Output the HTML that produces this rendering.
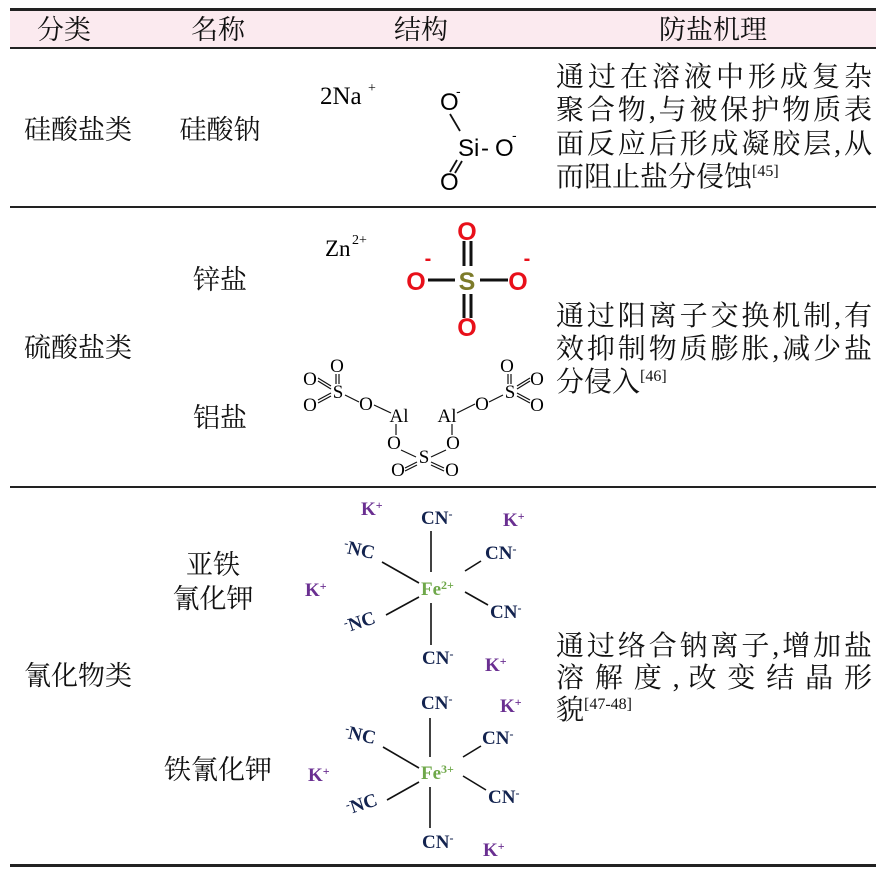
<!DOCTYPE html>
<html><head><meta charset="utf-8"><style>
body{margin:0;background:#fff;width:888px;height:879px;position:relative;overflow:hidden;font-family:"Liberation Serif","Noto Serif CJK SC",serif;color:#111}
.t{position:absolute;font-size:27px;line-height:30px;white-space:nowrap;transform:translate(-50%,-50%)}
.r{position:absolute;left:556px;width:316px;font-size:28px;line-height:33px;text-align:justify;text-align-last:justify;white-space:nowrap}
.r.l{text-align-last:left}
sup{font-size:16px;vertical-align:top;position:relative;top:-6px;font-family:"Liberation Serif",serif}
.hl{position:absolute;left:10px;width:866px;background:#222}
</style></head><body>
<div style="position:absolute;left:10px;top:10px;width:866px;height:38px;background:#fbeaef"></div>
<div class="hl" style="top:8px;height:3px"></div>
<div class="hl" style="top:47px;height:2px"></div>
<div class="hl" style="top:206px;height:2px"></div>
<div class="hl" style="top:486px;height:2px"></div>
<div class="hl" style="top:864px;height:3px"></div>

<div class="t" style="left:64px;top:30px">分类</div>
<div class="t" style="left:218px;top:30px">名称</div>
<div class="t" style="left:421px;top:30px">结构</div>
<div class="t" style="left:713px;top:30px">防盐机理</div>

<div class="t" style="left:78px;top:130px">硅酸盐类</div>
<div class="t" style="left:220px;top:130px">硅酸钠</div>
<div class="t" style="left:78px;top:348px">硫酸盐类</div>
<div class="t" style="left:220px;top:280px">锌盐</div>
<div class="t" style="left:220px;top:418px">铝盐</div>
<div class="t" style="left:78px;top:676px">氰化物类</div>
<div class="t" style="left:213px;top:565px">亚铁</div>
<div class="t" style="left:213px;top:599px">氰化钾</div>
<div class="t" style="left:218px;top:770px">铁氰化钾</div>

<div class="r" style="top:61px">通过在溶液中形成复杂</div>
<div class="r" style="top:94px">聚合物,与被保护物质表</div>
<div class="r" style="top:128px">面反应后形成凝胶层,从</div>
<div class="r l" style="top:161px">而阻止盐分侵蚀<sup>[45]</sup></div>

<div class="r" style="top:300px">通过阳离子交换机制,有</div>
<div class="r" style="top:333px">效抑制物质膨胀,减少盐</div>
<div class="r l" style="top:366px">分侵入<sup>[46]</sup></div>

<div class="r" style="top:630px">通过络合钠离子,增加盐</div>
<div class="r" style="top:662px">溶 解 度 , 改 变 结 晶 形</div>
<div class="r l" style="top:694px">貌<sup>[47-48]</sup></div>

<svg width="888" height="879" style="position:absolute;left:0;top:0" font-family="Liberation Serif, serif">
<!-- sodium silicate -->
<text x="320" y="104" font-size="25">2Na</text><text x="368" y="92" font-size="14">+</text>
<g font-family="Liberation Sans, sans-serif" font-size="24">
<text x="440" y="110">O</text><text x="456" y="96" font-size="14">-</text>
<text x="458" y="156">Si</text><text x="481" y="156">-</text><text x="495" y="156">O</text><text x="512" y="140" font-size="14">-</text>
<text x="440" y="190">O</text>
</g>
<line x1="450" y1="114" x2="460" y2="131" stroke="#111" stroke-width="1.8"/>
<line x1="457" y1="160" x2="450" y2="172" stroke="#111" stroke-width="1.8"/>
<line x1="462" y1="161" x2="455" y2="173" stroke="#111" stroke-width="1.8"/>
<!-- Zn -->
<text x="325" y="256" font-size="23">Zn</text><text x="352" y="244" font-size="14">2+</text>
<!-- sulfate -->
<g stroke="#111" stroke-width="3">
<line x1="464" y1="241" x2="464" y2="266"/><line x1="471" y1="241" x2="471" y2="266"/>
<line x1="464" y1="294" x2="464" y2="318"/><line x1="471" y1="294" x2="471" y2="318"/>
<line x1="428" y1="280" x2="455" y2="280"/><line x1="480" y1="280" x2="508" y2="280"/>
</g>
<g font-family="Liberation Sans, sans-serif" font-weight="bold" font-size="25" text-anchor="middle">
<text x="467" y="240" fill="#e8101a">O</text>
<text x="467" y="336" fill="#e8101a">O</text>
<text x="416" y="290" fill="#e8101a">O</text>
<text x="518" y="290" fill="#e8101a">O</text>
<text x="467" y="290" fill="#7d7b2a">S</text>
<text x="428" y="265" fill="#e8101a" font-size="20">-</text>
<text x="527" y="265" fill="#e8101a" font-size="20">-</text>
</g>
<!-- aluminium sulfate -->
<g font-size="19" text-anchor="middle">
<text x="337" y="372">O</text><text x="310" y="385">O</text><text x="338" y="398">S</text><text x="310" y="411">O</text>
<text x="366" y="410">O</text><text x="399" y="422">Al</text>
<text x="447" y="422">Al</text><text x="482" y="410">O</text>
<text x="507" y="372">O</text><text x="510" y="398">S</text><text x="537" y="385">O</text><text x="537" y="411">O</text>
<text x="394" y="449">O</text><text x="453" y="449">O</text>
<text x="424" y="463">S</text><text x="398" y="476">O</text><text x="452" y="476">O</text>
</g>
<g stroke="#111" stroke-width="1.2">
<line x1="336" y1="374" x2="336" y2="384"/><line x1="339" y1="374" x2="339" y2="384"/>
<line x1="318" y1="378" x2="331" y2="386"/><line x1="318" y1="381" x2="331" y2="389"/>
<line x1="318" y1="400" x2="331" y2="393"/><line x1="318" y1="403" x2="331" y2="396"/>
<line x1="345" y1="395" x2="359" y2="402"/><line x1="374" y1="405" x2="391" y2="413"/>
<line x1="457" y1="413" x2="475" y2="404"/><line x1="489" y1="402" x2="503" y2="395"/>
<line x1="508" y1="374" x2="508" y2="384"/><line x1="511" y1="374" x2="511" y2="384"/>
<line x1="517" y1="386" x2="530" y2="378"/><line x1="517" y1="389" x2="530" y2="381"/>
<line x1="517" y1="393" x2="530" y2="400"/><line x1="517" y1="396" x2="530" y2="403"/>
<line x1="396" y1="424" x2="396" y2="435"/><line x1="452" y1="424" x2="452" y2="435"/>
<line x1="401" y1="450" x2="416" y2="457"/><line x1="446" y1="450" x2="431" y2="457"/>
<line x1="405" y1="468" x2="417" y2="462"/><line x1="405" y1="471" x2="417" y2="465"/>
<line x1="431" y1="462" x2="444" y2="468"/><line x1="431" y1="465" x2="444" y2="471"/>
</g>
<!-- ferrocyanide -->
<g font-weight="bold" font-size="19">
<g fill="#6a2f91">
<text x="361" y="515">K<tspan font-size="12" dy="-6">+</tspan></text>
<text x="503" y="526">K<tspan font-size="12" dy="-6">+</tspan></text>
<text x="305" y="596">K<tspan font-size="12" dy="-6">+</tspan></text>
<text x="485" y="671">K<tspan font-size="12" dy="-6">+</tspan></text>
<text x="500" y="712">K<tspan font-size="12" dy="-6">+</tspan></text>
<text x="308" y="781">K<tspan font-size="12" dy="-6">+</tspan></text>
<text x="483" y="856">K<tspan font-size="12" dy="-6">+</tspan></text>
</g>
<g fill="#13234f">
<text x="421" y="524">CN<tspan font-size="12" dy="-6">-</tspan></text>
<text x="485" y="559">CN<tspan font-size="12" dy="-6">-</tspan></text>
<text x="490" y="618">CN<tspan font-size="12" dy="-6">-</tspan></text>
<text x="422" y="664">CN<tspan font-size="12" dy="-6">-</tspan></text>
<text x="343" y="556" transform="rotate(12 360 552)"><tspan font-size="12" dy="-6">-</tspan><tspan dy="6">NC</tspan></text>
<text x="344" y="628" transform="rotate(-18 360 622)"><tspan font-size="12" dy="-6">-</tspan><tspan dy="6">NC</tspan></text>
<text x="421" y="709">CN<tspan font-size="12" dy="-6">-</tspan></text>
<text x="482" y="744">CN<tspan font-size="12" dy="-6">-</tspan></text>
<text x="488" y="803">CN<tspan font-size="12" dy="-6">-</tspan></text>
<text x="422" y="848">CN<tspan font-size="12" dy="-6">-</tspan></text>
<text x="344" y="741" transform="rotate(12 360 737)"><tspan font-size="12" dy="-6">-</tspan><tspan dy="6">NC</tspan></text>
<text x="346" y="810" transform="rotate(-18 362 804)"><tspan font-size="12" dy="-6">-</tspan><tspan dy="6">NC</tspan></text>
</g>
<g fill="#6fa84a">
<text x="421" y="595">Fe<tspan font-size="12" dy="-6">2+</tspan></text>
<text x="421" y="779">Fe<tspan font-size="12" dy="-6">3+</tspan></text>
</g>
</g>
<g stroke="#111" stroke-width="1.6">
<line x1="431" y1="531" x2="431" y2="572"/><line x1="431" y1="603" x2="431" y2="645"/>
<line x1="382" y1="562" x2="419" y2="583"/><line x1="386" y1="615" x2="419" y2="597"/>
<line x1="465" y1="571" x2="481" y2="561"/><line x1="465" y1="592" x2="488" y2="605"/>
<line x1="430" y1="718" x2="430" y2="757"/><line x1="430" y1="787" x2="430" y2="828"/>
<line x1="383" y1="747" x2="419" y2="768"/><line x1="387" y1="800" x2="419" y2="782"/>
<line x1="463" y1="757" x2="481" y2="746"/><line x1="463" y1="776" x2="486" y2="790"/>
</g>
</svg>
</body></html>
